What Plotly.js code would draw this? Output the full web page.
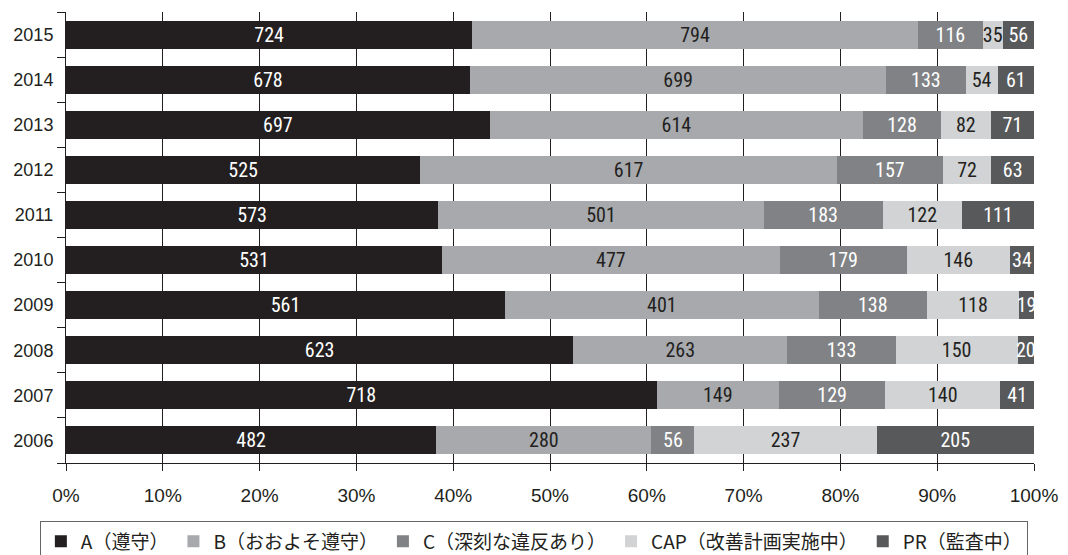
<!DOCTYPE html>
<html>
<head>
<meta charset="utf-8">
<script src="https://cdn.plot.ly/plotly-3.0.1.min.js"></script>
<style>html,body{margin:0;padding:0;background:#fff;}#chart{width:1068px;height:555px;}</style>
</head>
<body>
<div id="chart"></div>
<script>
var years = ['2006','2007','2008','2009','2010','2011','2012','2013','2014','2015'];
var seriesNames = ['A（遵守）','B（おおよそ遵守）','C（深刻な違反あり）','CAP（改善計画実施中）','PR（監査中）'];
var valuesA   = [482, 718, 623, 561, 531, 573, 525, 697, 678, 724];
var valuesB   = [280, 149, 263, 401, 477, 501, 617, 614, 699, 794];
var valuesC   = [56, 129, 133, 138, 179, 183, 157, 128, 133, 116];
var valuesCAP = [237, 140, 150, 118, 146, 122, 72, 82, 54, 35];
var valuesPR  = [205, 41, 20, 19, 34, 111, 63, 71, 61, 56];
var xTickVals = [0,10,20,30,40,50,60,70,80,90,100];

var colors = ['#231f20','#a7a9ac','#808285','#d1d3d4','#58595b'];
var textColors = ['#ffffff','#231f20','#ffffff','#231f20','#ffffff'];
var allValues = [valuesA, valuesB, valuesC, valuesCAP, valuesPR];

var narrow = 'Roboto Condensed, DejaVu Sans Condensed, sans-serif';
var sans = 'Liberation Sans, Arial, sans-serif';

var traces = allValues.map(function(vals, i){
  return {
    type: 'bar',
    orientation: 'h',
    name: seriesNames[i],
    y: years,
    x: vals,
    text: vals.map(String),
    texttemplate: '%{text}',
    textposition: 'inside',
    insidetextanchor: 'middle',
    textangle: 0,
    constraintext: 'none',
    insidetextfont: {family: narrow, size: 20, color: textColors[i]},
    marker: {color: colors[i], line: {width: 0}},
    hoverinfo: 'skip'
  };
});

var layout = {
  width: 1068,
  height: 555,
  margin: {l: 66, r: 34, t: 12, b: 92, autoexpand: false},
  barmode: 'stack',
  barnorm: 'percent',
  bargap: 0.38,
  paper_bgcolor: '#ffffff',
  plot_bgcolor: '#ffffff',
  font: {family: sans, color: '#231f20'},
  xaxis: {
    range: [0, 100],
    tickvals: xTickVals,
    ticktext: xTickVals.map(function(v){return v + '%';}),
    showgrid: true,
    gridcolor: '#231f20',
    gridwidth: 1,
    zeroline: false,
    showline: true,
    linecolor: '#231f20',
    linewidth: 1,
    ticks: 'outside',
    ticklen: 7,
    tickcolor: '#231f20',
    tickfont: {family: sans, size: 19, color: '#231f20'},
    ticklabelstandoff: 8,
    automargin: false,
    fixedrange: true
  },
  yaxis: {
    type: 'category',
    showgrid: false,
    showline: true,
    linecolor: '#231f20',
    linewidth: 1,
    ticks: 'outside',
    tickson: 'boundaries',
    ticklen: 8,
    tickcolor: '#231f20',
    tickfont: {family: sans, size: 18, color: '#231f20'},
    ticklabelstandoff: 8,
    automargin: false,
    fixedrange: true
  },
  showlegend: true,
  legend: {
    orientation: 'h',
    x: -0.027,
    xanchor: 'left',
    y: -0.1295,
    yanchor: 'top',
    traceorder: 'normal',
    bordercolor: '#666666',
    borderwidth: 1,
    font: {family: 'Noto Sans CJK JP, sans-serif', size: 19, color: '#231f20'},
    itemclick: false,
    itemdoubleclick: false
  }
};

Plotly.newPlot('chart', traces, layout, {displayModeBar: false, staticPlot: true});
</script>
</body>
</html>
